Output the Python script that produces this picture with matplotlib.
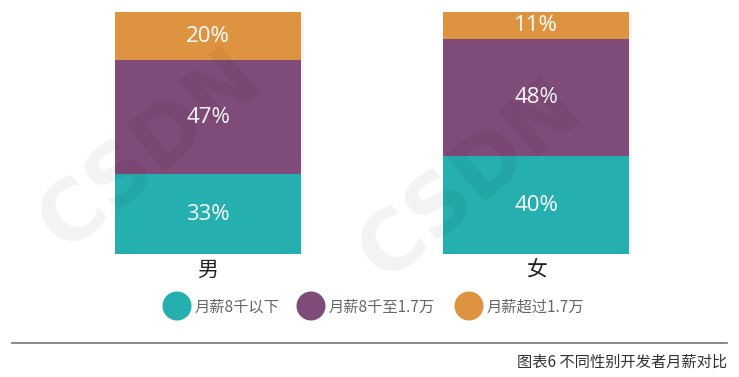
import matplotlib.pyplot as plt
from matplotlib.patches import Circle, Rectangle

plt.rcParams['font.family'] = ['Noto Sans CJK SC', 'DejaVu Sans']

genders = ['男', '女']
series = ['月薪8千以下', '月薪8千至1.7万', '月薪超过1.7万']
low = [33, 40]
mid = [47, 48]
high = [20, 11]
colors = ['#25AFAF', '#7F4B78', '#DE9340']
caption = '图表6 不同性别开发者月薪对比'

fig = plt.figure(figsize=(7.39, 3.77), dpi=100)

# bars
ax = fig.add_axes([0, (377 - 254) / 377, 1, 242 / 377])
xs = list(range(len(genders)))
width = 186 / 328
ax.set_xlim(-208 / 328, (739 - 208) / 328)

totals = [a + b + c for a, b, c in zip(low, mid, high)]
ax.set_ylim(0, 100)
bottoms = [0] * len(genders)
for vals, c in zip([low, mid, high], colors):
    h = [v / t * 100 for v, t in zip(vals, totals)]
    # soft shadow
    for x, b, hh in zip(xs, bottoms, h):
        ax.add_patch(Rectangle((x - width / 2 + 0.008, b - 0.8), width, hh,
                               color='#000000', alpha=0.04, lw=0, zorder=1))
    ax.bar(xs, h, width, bottom=bottoms, color=c, zorder=2, linewidth=0)
    for x, b, hh, v in zip(xs, bottoms, h, vals):
        ax.text(x, b + hh / 2, f'{v}%', ha='center', va='center', color='white',
                fontsize=16, family=['Open Sans', 'DejaVu Sans'], zorder=3)
    bottoms = [b + hh for b, hh in zip(bottoms, h)]
ax.axis('off')

# overlay for labels, legend, watermark
ov = fig.add_axes([0, 0, 1, 1], zorder=5)
ov.set_xlim(0, 739)
ov.set_ylim(377, 0)
ov.axis('off')

for x, g in zip([208, 536], genders):
    ov.text(x, 270, g, ha='center', va='center', fontsize=15, color='#222222')

legend_x = [177, 311, 469]
for lx, name, c in zip(legend_x, series, colors):
    ov.add_patch(Circle((lx, 306), 14.5, color=c, lw=0))
    ov.text(lx + 18, 307, name, ha='left', va='center', fontsize=11, color='#666666')

ov.plot([12, 727], [343, 343], color='#777777', lw=1.2)
ov.text(727, 362, caption, ha='right', va='center', fontsize=11, color='#333333')

# faint watermark
for wx, wy in [(150, 150), (470, 180)]:
    ov.text(wx, wy, 'CSDN', ha='center', va='center', rotation=40, fontsize=60,
            fontweight='bold', color='#000000', alpha=0.05, family='DejaVu Sans')

fig.savefig('out.png', dpi=100)
